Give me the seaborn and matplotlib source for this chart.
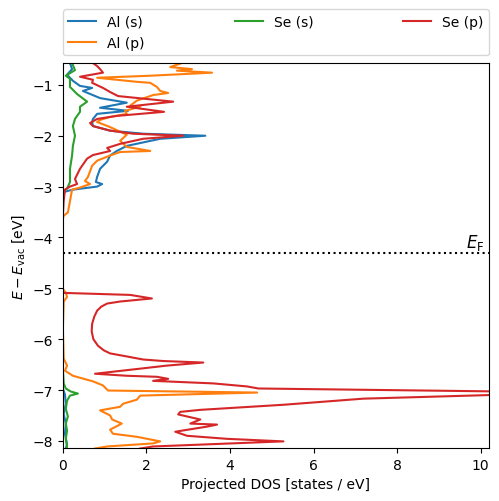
import matplotlib
matplotlib.use("Agg")
import matplotlib.pyplot as plt
import pandas as pd
import seaborn as sns


# energies (eV, relative to vacuum) and projected DOS
al_s_energy = [-0.57, -0.69, -0.80, -0.92, -1.02, -1.06, -1.12, -1.26, -1.35, -1.45,
               -1.51, -1.57, -1.67, -1.73, -1.81, -1.90, -1.96, -2.00, -2.06, -2.20,
               -2.30, -2.39, -2.51, -2.65, -2.81, -2.91, -2.95, -3.00, -3.06, -3.10,
               -3.16, -6.97, -7.09, -7.27, -7.47, -7.66, -7.86, -8.07, -8.15]
al_s_dos = [0.17, 0.22, 0.10, 0.24, 0.41, 0.70, 0.48, 0.89, 1.53, 0.89,
            1.56, 0.82, 0.72, 0.70, 0.72, 1.13, 1.92, 3.41, 2.33, 1.53,
            1.29, 1.13, 1.06, 0.89, 0.82, 0.79, 0.94, 0.82, 0.24, 0.05,
            0.0, 0.0, 0.05, 0.07, 0.02, 0.07, 0.05, 0.10, 0.07]

al_p_energy = [-0.57, -0.65, -0.69, -0.72, -0.76, -0.82, -0.86, -0.94, -0.96, -1.04,
               -1.12, -1.16, -1.20, -1.31, -1.41, -1.43, -1.51, -1.57, -1.63, -1.69,
               -1.73, -1.83, -1.98, -2.10, -2.22, -2.30, -2.32, -2.39, -2.49, -2.59,
               -2.81, -2.89, -2.95, -3.02, -3.06, -3.51, -3.57, -3.63,
               -5.01, -5.09, -5.17, -5.26, -5.79, -6.38, -6.52, -6.62, -6.72, -6.83,
               -6.91, -7.01, -7.05, -7.11, -7.19, -7.27, -7.33, -7.40, -7.50, -7.58,
               -7.66, -7.78, -7.86, -7.92, -8.01, -8.05, -8.11, -8.15]
al_p_dos = [2.85, 2.57, 3.09, 2.73, 3.57, 2.09, 0.82, 1.77, 2.09, 2.25,
            2.33, 2.52, 2.16, 1.77, 1.61, 1.85, 1.49, 1.53, 1.13, 0.89,
            0.82, 1.13, 1.53, 1.37, 1.53, 2.09, 1.37, 1.13, 0.82, 0.70,
            0.60, 0.53, 0.65, 0.41, 0.22, 0.12, 0.02, 0.0,
            0.0, 0.07, 0.10, 0.02, 0.0, 0.02, 0.10, 0.05, 0.24, 0.72,
            0.96, 1.08, 4.65, 1.85, 1.77, 1.44, 1.37, 0.89, 1.13, 1.18,
            1.41, 1.13, 1.20, 1.77, 2.33, 2.16, 1.06, 0.77]

se_s_energy = [-0.57, -0.71, -0.82, -0.88, -1.04, -1.18, -1.33, -1.43, -1.53, -1.67,
               -1.81, -2.00, -2.20, -2.39, -2.65, -2.91, -3.04, -3.08, -3.12,
               -6.58, -6.87, -6.97, -7.03, -7.07, -7.11, -7.21, -7.37, -7.52, -7.66,
               -7.80, -7.96, -8.11, -8.15]
se_s_dos = [0.22, 0.29, 0.07, 0.17, 0.17, 0.34, 0.58, 0.41, 0.41, 0.29,
            0.24, 0.29, 0.24, 0.22, 0.17, 0.17, 0.10, 0.02, 0.0,
            0.0, 0.02, 0.07, 0.19, 0.36, 0.17, 0.10, 0.07, 0.12, 0.07,
            0.10, 0.07, 0.10, 0.08]

se_p_energy = [-0.57, -0.63, -0.69, -0.76, -0.84, -0.90, -0.96, -1.06, -1.14, -1.22,
               -1.33, -1.43, -1.53, -1.61, -1.67, -1.75, -1.81, -1.90, -1.96, -2.00,
               -2.06, -2.16, -2.24, -2.30, -2.38, -2.45, -2.65, -2.85, -2.95, -3.00,
               -3.06, -3.28, -3.57,
               -5.09, -5.13, -5.20, -5.26, -5.30, -5.36, -5.44, -5.56, -5.70, -5.85,
               -6.00, -6.13, -6.22, -6.28, -6.34, -6.40, -6.43, -6.46, -6.52, -6.58,
               -6.68, -6.72, -6.74, -6.78, -6.82, -6.87, -6.93, -6.97, -7.03, -7.09,
               -7.17, -7.29, -7.39, -7.43, -7.48, -7.58, -7.66, -7.68, -7.72, -7.82,
               -7.90, -7.96, -8.01, -8.11, -8.15]
se_p_dos = [0.72, 0.82, 0.89, 0.96, 0.41, 0.72, 0.70, 0.96, 1.13, 1.32,
            2.64, 1.53, 2.42, 1.29, 0.82, 0.65, 0.72, 1.13, 1.68, 2.88,
            1.92, 1.37, 1.06, 1.13, 0.72, 0.58, 0.41, 0.29, 0.34, 0.17,
            0.05, 0.02, 0.0,
            0.0, 1.61, 2.13, 1.37, 1.06, 0.92, 0.82, 0.75, 0.70, 0.69,
            0.73, 0.84, 0.98, 1.13, 1.53, 1.92, 2.40, 3.36, 2.49, 1.85,
            0.77, 1.53, 2.25, 2.52, 2.16, 3.60, 4.41, 4.68, 10.6, 10.6,
            7.19, 5.28, 3.29, 2.81, 2.76, 3.29, 3.05, 3.69, 3.45, 2.69,
            2.97, 3.93, 5.28, 2.16, 1.85]

fermi_level = -4.31

series = [("Al (s)", al_s_energy, al_s_dos),
          ("Al (p)", al_p_energy, al_p_dos),
          ("Se (s)", se_s_energy, se_s_dos),
          ("Se (p)", se_p_energy, se_p_dos)]
frames = [pd.DataFrame({"energy": e, "dos": d, "label": name}) for name, e, d in series]
df = pd.concat(frames, ignore_index=True)


fig, ax = plt.subplots(figsize=(4.99, 5.02), dpi=100)
fig.subplots_adjust(left=0.126, right=0.98, top=0.8725, bottom=0.1056)
sns.lineplot(data=df, x="dos", y="energy", hue="label", sort=False, estimator=None,
             palette="tab10", linewidth=1.5, ax=ax)

ax.axhline(fermi_level, color="black", linestyle=":")
ax.set_xlim(0, 10.2)
ax.set_ylim(-8.14, -0.57)
ax.text(10.1, fermi_level + 0.03, r"$E_\mathrm{F}$", ha="right", va="bottom", fontsize=12)

ax.set_xlabel("Projected DOS [states / eV]")
ax.set_ylabel(r"$E - E_\mathrm{vac}$ [eV]")
ax.legend(bbox_to_anchor=(0, 1.02, 1, 0.102), loc="lower left", ncol=3,
          mode="expand", borderaxespad=0)

plt.savefig("out.png")
